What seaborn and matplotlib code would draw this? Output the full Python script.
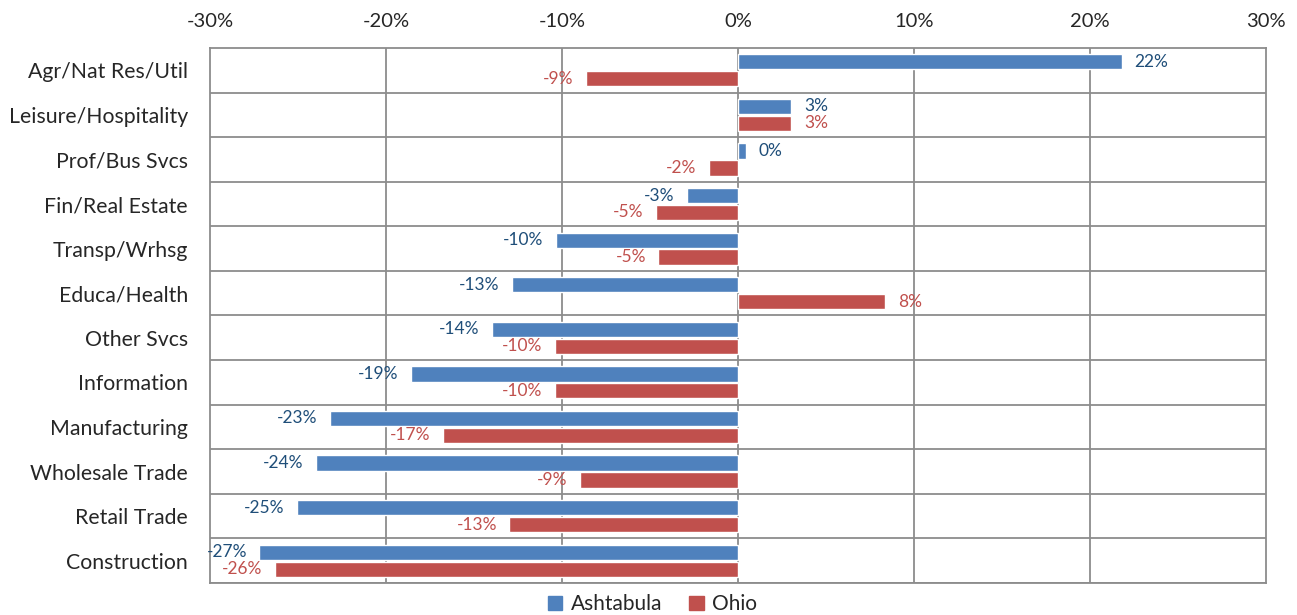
import pandas as pd
import seaborn as sns
import matplotlib.pyplot as plt

# Employment change by industry, Ashtabula vs Ohio (percent)
industries = ['Agr/Nat Res/Util', 'Leisure/Hospitality', 'Prof/Bus Svcs', 'Fin/Real Estate',
              'Transp/Wrhsg', 'Educa/Health', 'Other Svcs', 'Information',
              'Manufacturing', 'Wholesale Trade', 'Retail Trade', 'Construction']
ashtabula = [21.8, 3.04, 0.45, -2.9, -10.36, -12.85, -13.99, -18.6, -23.2, -23.98, -25.08, -27.2]
ohio = [-8.65, 3.04, -1.65, -4.65, -4.52, 8.38, -10.39, -10.39, -16.78, -8.97, -12.99, -26.3]

df = pd.DataFrame({'industry': industries * 2,
                   'pct': ashtabula + ohio,
                   'area': ['Ashtabula'] * 12 + ['Ohio'] * 12})

sns.set_style('white')
plt.rcParams['font.family'] = ['Lato', 'DejaVu Sans']

fig = plt.figure(figsize=(12.97, 6.15), dpi=100)
ax = fig.add_axes([0.162, 0.052, 0.814, 0.870])
pal = {'Ashtabula': '#4F81BD', 'Ohio': '#C0504D'}
sns.barplot(data=df, x='pct', y='industry', hue='area', orient='h', palette=pal,
            width=0.76, gap=0.1, saturation=1, ax=ax, zorder=3, legend=False)

label_cols = ['#1F4E79', '#C0504D']
for cont, col in zip(ax.containers, label_cols):
    ax.bar_label(cont, fmt=lambda v: f'{v:.0f}%', padding=9, color=col, fontsize=12.5)

ax.set_xlim(-30, 30)
ax.set_ylim(11.5, -0.5)
ax.set_xticks(range(-30, 31, 10))
ax.set_xticklabels([f'{t}%' for t in range(-30, 31, 10)], fontsize=14.5)
ax.xaxis.tick_top()
ax.tick_params(axis='x', length=0, pad=13)
ax.tick_params(axis='y', length=0, pad=16, labelsize=15.3)
ax.set_xlabel('')
ax.set_ylabel('')

for x in range(-20, 21, 10):
    ax.axvline(x, color='#8C8C8C', lw=1.3, zorder=1)
for y in range(0, 12):
    ax.axhline(y + 0.5, color='#8C8C8C', lw=1.3, zorder=1)
for s in ax.spines.values():
    s.set_color('#8C8C8C')
    s.set_linewidth(1.3)

# legend centred on the whole figure, like the original
handles = [plt.Rectangle((0, 0), 1, 1, color=pal[k]) for k in ['Ashtabula', 'Ohio']]
fig.legend(handles, ['Ashtabula', 'Ohio'], loc='lower center', bbox_to_anchor=(0.503, -0.016),
           ncol=2, frameon=False, fontsize=15, handlelength=0.7, handleheight=0.7,
           handletextpad=0.4, columnspacing=1.3, borderpad=0)

fig.savefig('out.png', dpi=100)
